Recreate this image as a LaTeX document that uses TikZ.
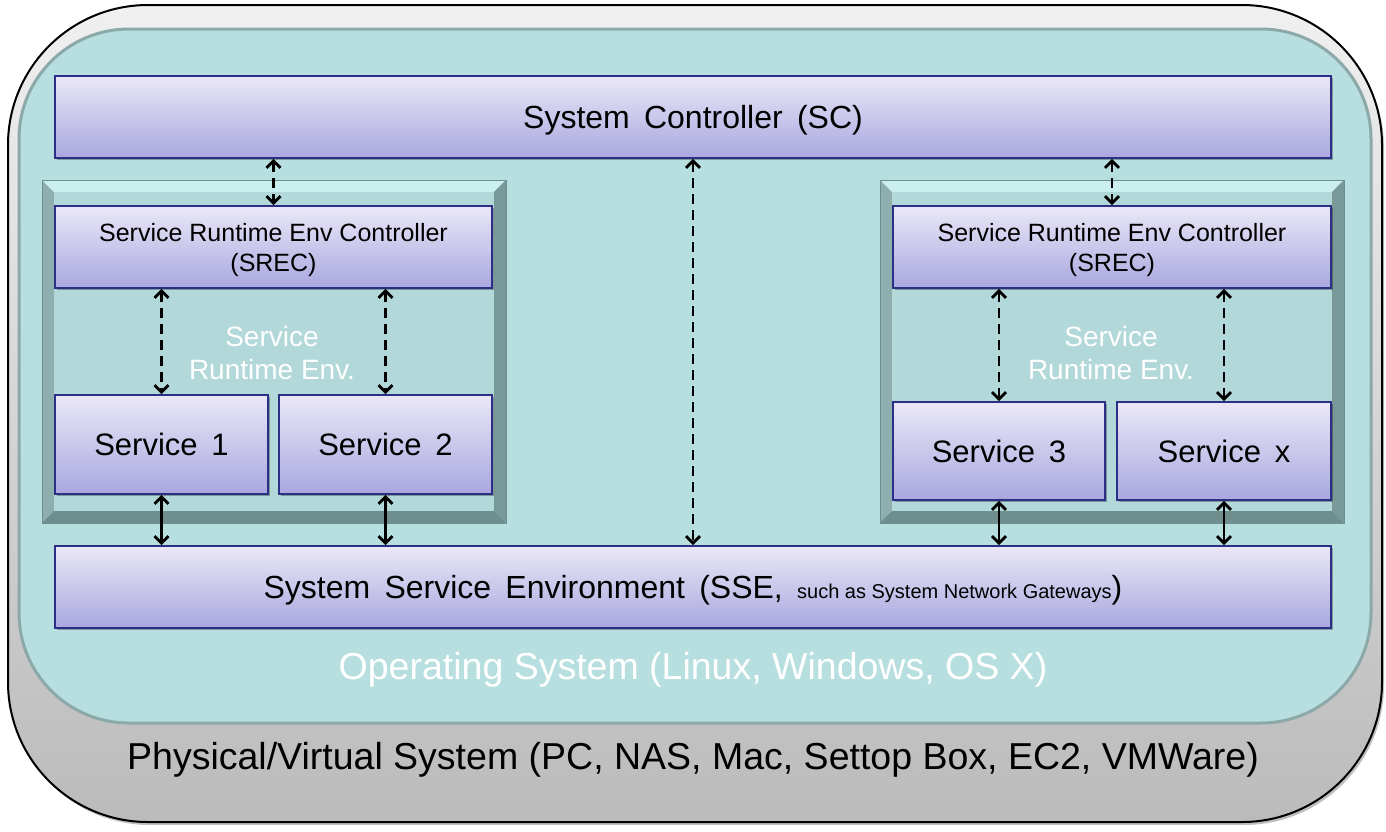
\documentclass[tikz,border=0pt]{standalone}
\usepackage{fontspec}
\setmainfont{Liberation Sans}
\usetikzlibrary{arrows.meta,shadows}
\definecolor{boxtop}{HTML}{EAE8F7}
\definecolor{boxbot}{HTML}{A9A7DF}
\definecolor{boxline}{HTML}{2B2F86}
\definecolor{osfill}{HTML}{B8DFE0}
\definecolor{osline}{HTML}{8CA9A9}
\definecolor{outtop}{HTML}{F0F0F0}
\definecolor{outbot}{HTML}{BBBBBB}
\definecolor{frmin}{HTML}{B3D8D9}
\definecolor{frtop}{HTML}{CBEFEF}
\definecolor{frside}{HTML}{8FAFAF}
\definecolor{frbot}{HTML}{6F8E8E}
\tikzset{
  bluebox/.style={draw=boxline, line width=1.8pt, top color=boxtop, bottom color=boxbot,
    inner sep=0pt, align=center,
    drop shadow={shadow xshift=2pt, shadow yshift=-2pt, opacity=0.3, fill=black}},
  lowtext/.style={text depth=0pt},
  darrow/.style={line width=2.8pt, dash pattern=on 10pt off 6pt, {Straight Barb[length=7pt,width=14pt]}-{Straight Barb[length=7pt,width=14pt]}},
  sarrow/.style={line width=2.8pt, {Straight Barb[length=7pt,width=14pt]}-{Straight Barb[length=7pt,width=14pt]}},
  wlabel/.style={text=white, align=center, inner sep=0pt}
}
\newcommand{\fsz}[1]{\fontsize{#1}{1.2\dimexpr #1pt\relax}\selectfont}
\begin{document}
\begin{tikzpicture}[x=1pt,y=-1pt]
\useasboundingbox (0,0) rectangle (1386,831);
% outer physical system
\draw[line width=2pt, draw=black, top color=outtop, bottom color=outbot,
  drop shadow={shadow xshift=2pt, shadow yshift=-3pt, opacity=0.25, fill=black},
  rounded corners=140pt] (8,5) rectangle (1382,822);
% OS box
\draw[line width=3pt, draw=osline, fill=osfill, rounded corners=110pt] (19,29) rectangle (1371,723);
% bevel frames
\foreach \xa/\xb in {42/506, 880/1344}{
  \fill[frside] (\xa,180) rectangle (\xb,523);
  \fill[frtop] (\xa,180) -- (\xb,180) -- (\xb-12,192) -- (\xa+12,192) -- cycle;
  \fill[frbot] (\xa,523) -- (\xb,523) -- (\xb-12,511) -- (\xa+12,511) -- cycle;
  \fill[frbot!70!frside] (\xb,180) -- (\xb,523) -- (\xb-12,511) -- (\xb-12,192) -- cycle;
  \fill[frmin] (\xa+12,192) rectangle (\xb-12,511);
  \draw[frbot, line width=1pt] (\xa,180) rectangle (\xb,523);
}
% boxes
\node[bluebox, lowtext, minimum width=1276pt, minimum height=82pt, font=\fsz{32}] (sc) at (693,117) {System\, Controller\, (SC)};
\node[bluebox, lowtext, minimum width=437pt, minimum height=82pt, font=\fsz{25}] (srecL) at (273.5,247) {Service Runtime Env Controller\\(SREC)};
\node[bluebox, lowtext, minimum width=438pt, minimum height=82pt, font=\fsz{25}] (srecR) at (1112,247) {Service Runtime Env Controller\\(SREC)};
\node[bluebox, minimum width=213pt, minimum height=99pt, font=\fsz{31}] (s1) at (161.5,444.5) {Service\, 1};
\node[bluebox, minimum width=213pt, minimum height=99pt, font=\fsz{31}] (s2) at (385.5,444.5) {Service\, 2};
\node[bluebox, minimum width=212pt, minimum height=98pt, font=\fsz{31}] (s3) at (999,451) {Service\, 3};
\node[bluebox, minimum width=214pt, minimum height=98pt, font=\fsz{31}] (sx) at (1224,451) {Service\, x};
\node[bluebox, lowtext, minimum width=1276pt, minimum height=82pt, font=\fsz{32}] (sse) at (693,587)
  {System\, Service\, Environment\, (SSE,\, {\fsz{20}such as System Network Gateways})};
% labels
\node[wlabel, font=\fsz{28}] (sreL) at (272,353) {Service\\Runtime Env.};
\node[wlabel, font=\fsz{28}] (sreR) at (1111,353) {Service\\Runtime Env.};
\node[wlabel, font=\fsz{37.5}] (oslabel) at (693,670) {Operating System (Linux, Windows, OS X)};
\node[inner sep=0pt, font=\fsz{37.5}] (physlabel) at (693,760) {Physical/Virtual System (PC, NAS, Mac, Settop Box, EC2, VMWare)};
% connectors
\draw[darrow] (sc.south -| srecL.north) -- (srecL.north);
\draw[darrow] (sc.south -| srecR.north) -- (srecR.north);
\draw[darrow] (sc.south) -- (sse.north);
\draw[darrow] (srecL.south -| s1.north) -- (s1.north);
\draw[darrow] (srecL.south -| s2.north) -- (s2.north);
\draw[darrow] (srecR.south -| s3.north) -- (s3.north);
\draw[darrow] (srecR.south -| sx.north) -- (sx.north);
\draw[sarrow] (s1.south) -- (sse.north -| s1.south);
\draw[sarrow] (s2.south) -- (sse.north -| s2.south);
\draw[sarrow] (s3.south) -- (sse.north -| s3.south);
\draw[sarrow] (sx.south) -- (sse.north -| sx.south);
\end{tikzpicture}
\end{document}
